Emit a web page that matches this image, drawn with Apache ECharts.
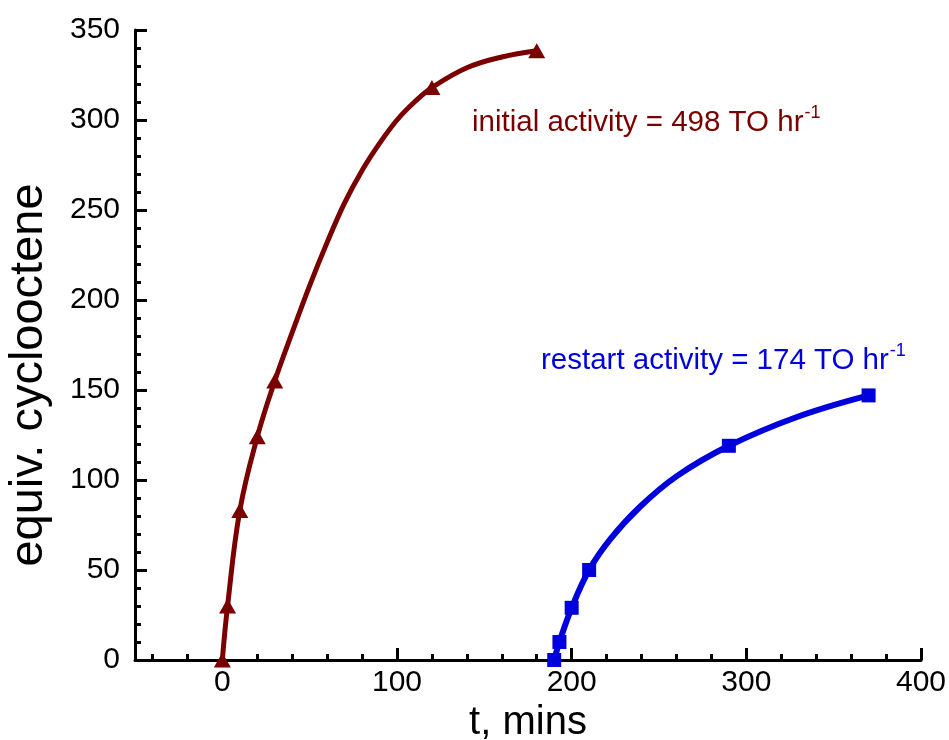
<!DOCTYPE html>
<html>
<head>
<meta charset="utf-8">
<script src="https://cdn.jsdelivr.net/npm/echarts@6/dist/echarts.min.js"></script>
<style>html,body{margin:0;padding:0;background:#fff}#c{width:949px;height:740px}</style>
</head>
<body>
<div id="c"></div>
<script>
// ---- data ----
const redT = [0, 3, 10, 20, 30, 120, 180];
const redY = [0, 30, 83, 124, 155, 318, 338.5];
const redCurveT = [0, 3, 10, 20, 30, 40, 50, 60, 70, 80, 90, 100, 110, 120, 140, 160, 180];
const redCurveY = [0, 30, 83, 124, 155, 182, 208, 232, 254, 272, 287, 300, 310, 318, 329, 335, 338.5];
const blueT = [190, 193, 200, 210, 290, 370];
const blueY = [0, 10, 29, 50, 119, 147];
const blueCurveT = [190, 193, 200, 210, 222, 239, 260, 290, 329, 370];
const blueCurveY = [0, 10, 29, 50, 67, 85, 102, 119, 135, 147];
const xMajor = [0, 100, 200, 300, 400];
const xMinor = [-40, -20, 20, 40, 60, 80, 120, 140, 160, 180, 220, 240, 260, 280, 320, 340, 360, 380];
const xName = 't, mins';
const yName = 'equiv. cyclooctene';
const noteInitial = ['initial activity = 498 TO hr', '-1'];
const noteRestart = ['restart activity = 174 TO hr', '-1'];

const RED = '#7a0000';
const BLUE = '#0000dd';
const FONT = 'Liberation Sans, Arial, sans-serif';

const zip = (a, b) => a.map((v, i) => [v, b[i]]);

const chart = echarts.init(document.getElementById('c'), null, {renderer: 'canvas'});
const axisLine = {show: true, onZero: false, lineStyle: {color: '#000', width: 3}};
const note = (txt, color) => ({
  text: '{a|' + txt[0] + '}{s|' + txt[1] + '}',
  rich: {a: {fill: color, fontSize: 29.5, fontFamily: FONT, verticalAlign: 'bottom', lineHeight: 34},
         s: {fill: color, fontSize: 18, fontFamily: FONT, verticalAlign: 'top', lineHeight: 34, padding: [0, 0, 12, 1]}}
});
chart.setOption({
  backgroundColor: '#fff',
  animation: false,
  grid: {left: 135, right: 28, top: 30, bottom: 80, containLabel: false, outerBoundsMode: 'none'},
  xAxis: [{
    type: 'value', min: -50, max: 400,
    axisLine: axisLine,
    axisTick: {show: true, inside: true, length: 12, lineStyle: {color: '#000', width: 3}, customValues: xMajor},
    axisLabel: {show: true, customValues: xMajor, color: '#000', fontSize: 30, fontFamily: FONT, margin: 8},
    splitLine: {show: false},
    name: xName, nameLocation: 'middle', nameGap: 40,
    nameTextStyle: {color: '#000', fontSize: 40, fontFamily: FONT}
  }, {
    type: 'value', min: -50, max: 400, position: 'bottom',
    axisLine: {show: false},
    axisTick: {show: true, inside: true, length: 6, lineStyle: {color: '#000', width: 3}, customValues: xMinor},
    axisLabel: {show: false},
    splitLine: {show: false}
  }],
  yAxis: {
    type: 'value', min: 0, max: 350, interval: 50,
    axisLine: axisLine,
    axisTick: {show: true, inside: true, length: 12, lineStyle: {color: '#000', width: 3}},
    minorTick: {show: true, splitNumber: 5, length: 6, lineStyle: {color: '#000', width: 3}},
    axisLabel: {color: '#000', fontSize: 30, fontFamily: FONT, margin: 15},
    splitLine: {show: false},
    minorSplitLine: {show: false},
    name: yName, nameLocation: 'middle', nameGap: 82,
    nameTextStyle: {color: '#000', fontSize: 47, fontFamily: FONT, padding: [0, 60, 0, 0]}
  },
  series: [
    {type: 'line', data: zip(redCurveT, redCurveY), smooth: 0.4, showSymbol: false, symbol: 'none',
     lineStyle: {color: RED, width: 5}, clip: false, z: 2},
    {type: 'scatter', data: zip(redT, redY), symbol: 'triangle', symbolSize: [17, 15],
     itemStyle: {color: RED, opacity: 1}, clip: false, z: 3},
    {type: 'line', data: zip(blueCurveT, blueCurveY), smooth: 0.4, showSymbol: false, symbol: 'none',
     lineStyle: {color: BLUE, width: 6}, clip: false, z: 2},
    {type: 'scatter', data: zip(blueT, blueY), symbol: 'rect', symbolSize: 14,
     itemStyle: {color: BLUE, opacity: 1}, clip: false, z: 3}
  ],
  graphic: [
    {type: 'text', left: 472, top: 104, style: note(noteInitial, RED)},
    {type: 'text', left: 541, top: 342, style: note(noteRestart, BLUE)}
  ]
});
</script>
</body>
</html>
